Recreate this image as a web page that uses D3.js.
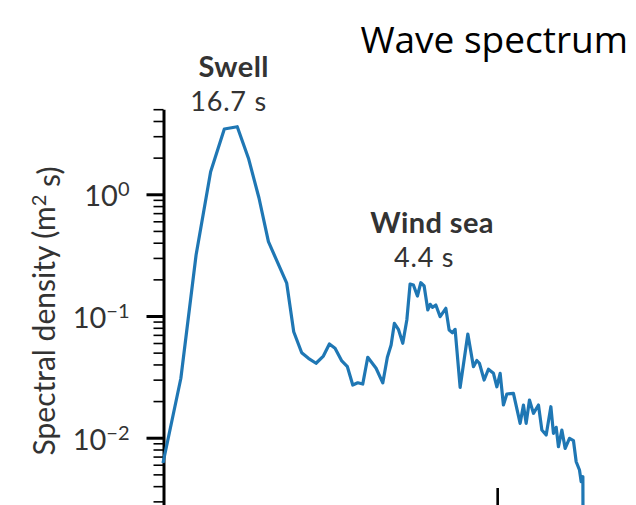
<!DOCTYPE html>
<html>
<head>
<meta charset="utf-8">
<script src="https://cdn.jsdelivr.net/npm/d3@7"></script>
<style>
  body { margin: 0; background: #fff; }
  text { font-family: Lato, "Noto Sans", sans-serif; }
</style>
</head>
<body>
<div id="wrapper"></div>
<script>
// frequency (Hz) and spectral density (m^2 s)
const frequency = [0.0350, 0.0398, 0.0444, 0.0493, 0.0544, 0.0597, 0.0647, 0.0698, 0.0747, 0.0852,
    0.0896, 0.0949, 0.0996, 0.1052, 0.1109, 0.1158, 0.1206, 0.1266, 0.1318, 0.1370,
    0.1420, 0.1472, 0.1526, 0.1620, 0.1700, 0.1757, 0.1805, 0.1848, 0.1902, 0.1963,
    0.2021, 0.2069, 0.2119, 0.2181, 0.2235, 0.2289, 0.2350, 0.2390, 0.2429, 0.2490,
    0.2568, 0.2675, 0.2740, 0.2805, 0.2860, 0.2965, 0.3134, 0.3263, 0.3343, 0.3406,
    0.3524, 0.3634, 0.3768, 0.3861, 0.3954, 0.4048, 0.4149, 0.4350, 0.4565, 0.4675,
    0.4767, 0.4882, 0.5024, 0.5208, 0.5337, 0.5505, 0.5694, 0.5801, 0.5915, 0.6014,
    0.6162, 0.6311, 0.6509, 0.6699, 0.6831, 0.6995, 0.7081, 0.7168, 0.7183]
const density = [0.0062, 0.0308, 0.317, 1.53, 3.44, 3.59, 1.98, 0.932, 0.408, 0.186,
    0.0743, 0.0499, 0.0449, 0.0409, 0.0469, 0.0589, 0.0543, 0.0427, 0.0383, 0.0271,
    0.0283, 0.0276, 0.0458, 0.0372, 0.0282, 0.0458, 0.0578, 0.0871, 0.0777, 0.0597,
    0.0927, 0.1832, 0.1798, 0.146, 0.1878, 0.1764, 0.112, 0.1248, 0.1179, 0.1231,
    0.0987, 0.1157, 0.0767, 0.0729, 0.0777, 0.0259, 0.0711, 0.0383, 0.0431, 0.0409,
    0.0298, 0.0365, 0.0338, 0.0262, 0.0338, 0.01857, 0.02286, 0.02316, 0.01313, 0.01857,
    0.01313, 0.0204, 0.01586, 0.01857, 0.01157, 0.01052, 0.01798, 0.01087, 0.01218, 0.00843,
    0.01157, 0.00818, 0.00989, 0.00945, 0.00635, 0.00543, 0.00435, 0.00478, 0.0008]

const peakNames = ["Swell", "Wind sea"]
const peakPeriods = [16.7, 4.4]  // s
const peakDensity = [3.59, 0.1878]

const yMajorTicks = [0.01, 0.1, 1]
const xTicks = [0.387]
const title = "Wave spectrum"

const width = 636, height = 505;

const svg = d3.select("#wrapper")
    .append("svg")
    .attr("width", width)
    .attr("height", height);

const xScale = d3.scaleLog()
    .domain([0.035, 0.72])
    .range([163, 583.5]);

const yScale = d3.scaleLog()
    .domain([0.002, 5])
    .range([522.8, 109.2]);

// minor ticks 2..9 per decade
const yMinorTicks = [];
[0.001, 0.01, 0.1, 1].forEach(function(dec) {
    for (let m = 2; m <= 9; m++) {
        const v = +(m * dec).toPrecision(2);
        if (v >= 0.002 && v <= 5) yMinorTicks.push(v);
    }
});

const minorAxis = svg.append("g")
    .attr("transform", "translate(163.5,0)")
    .call(d3.axisLeft(yScale).tickValues(yMinorTicks).tickSize(10).tickSizeOuter(0).tickFormat(""));
minorAxis.selectAll(".tick line").attr("stroke-width", 1.6).attr("stroke", "#000");
minorAxis.select(".domain").attr("stroke-width", 3).attr("stroke", "#000");

const majorAxis = svg.append("g")
    .attr("transform", "translate(163.5,0)")
    .call(d3.axisLeft(yScale).tickValues(yMajorTicks).tickSize(17).tickSizeOuter(0).tickPadding(17));
majorAxis.select(".domain").remove();
majorAxis.selectAll(".tick line").attr("stroke-width", 3).attr("stroke", "#000");
majorAxis.selectAll(".tick text")
    .attr("font-size", 29)
    .attr("fill", "#333")
    .attr("dy", "0.4em")
    .text("")
    .each(function(d) {
        const e = Math.round(Math.log10(d));
        const t = d3.select(this);
        t.append("tspan").text("10");
        t.append("tspan").attr("dy", "-0.5em").attr("font-size", 20)
            .text(String(e).replace("-", "\u2212"));
    });

// x axis sits below the visible area, only the tick shows
const xAxis = svg.append("g")
    .attr("transform", "translate(0,522)")
    .call(d3.axisBottom(xScale).tickValues(xTicks).tickSize(-34).tickSizeOuter(0).tickFormat(""));
xAxis.selectAll(".tick line").attr("stroke-width", 2.6).attr("stroke", "#000");
xAxis.select(".domain").attr("stroke-width", 3).attr("stroke", "#000");

// spectrum
const data = frequency.map((f, i) => ({f: f, s: density[i]}));
svg.append("path")
    .datum(data)
    .attr("fill", "none")
    .attr("stroke", "#1f77b4")
    .attr("stroke-width", 3.2)
    .attr("stroke-linejoin", "round")
    .attr("d", d3.line().x(d => xScale(d.f)).y(d => yScale(d.s)));

// peak labels: name on top, period below
const nameShift = [-4, 9], periodShift = [-9, 1];
peakNames.forEach(function(name, i) {
    const px = xScale(1 / peakPeriods[i]);
    const py = yScale(peakDensity[i]) - 16;
    svg.append("text")
        .attr("x", px + nameShift[i])
        .attr("y", py - 33.5)
        .attr("text-anchor", "middle")
        .attr("font-size", 29)
        .attr("font-weight", "bold")
        .attr("letter-spacing", 0.4)
        .attr("fill", "#333")
        .text(name);
    svg.append("text")
        .attr("x", px + periodShift[i])
        .attr("y", py)
        .attr("text-anchor", "middle")
        .attr("font-size", 27)
        .attr("letter-spacing", 0.8)
        .attr("fill", "#333")
        .text(peakPeriods[i].toFixed(1) + " s");
});

// y label
const ylab = svg.append("text")
    .attr("transform", "translate(55,311) rotate(-90)")
    .attr("text-anchor", "middle")
    .attr("font-size", 30)
    .attr("fill", "#333");
ylab.append("tspan").text("Spectral density (m");
ylab.append("tspan").attr("dy", "-0.45em").attr("font-size", 20).text("2");
ylab.append("tspan").attr("dy", "0.45em").text(" s)");

svg.append("text")
    .attr("x", 628)
    .attr("y", 53)
    .attr("text-anchor", "end")
    .style("font-family", "'Open Sans', sans-serif")
    .attr("font-size", 37)
    .attr("fill", "#000")
    .text(title);
</script>
</body>
</html>
